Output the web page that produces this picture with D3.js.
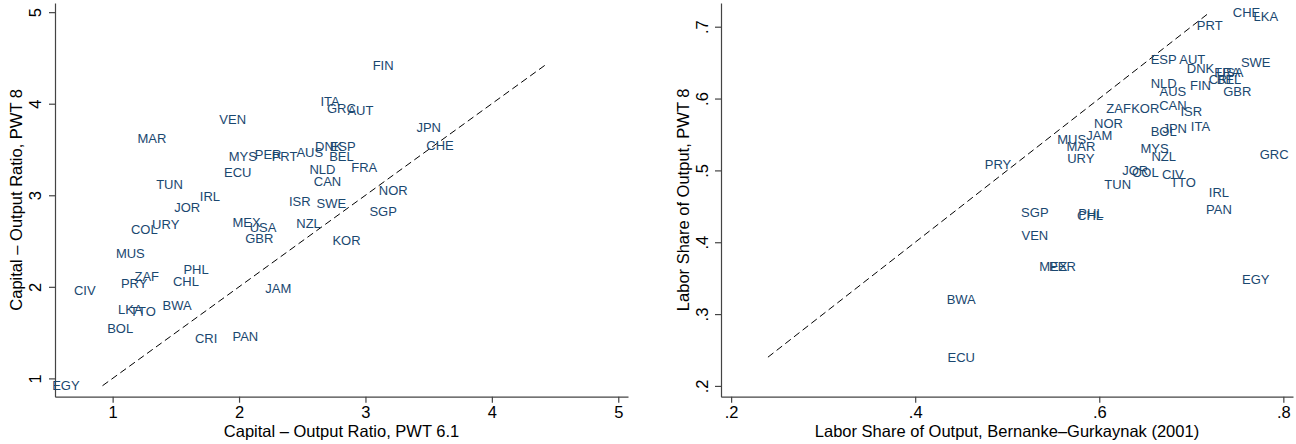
<!DOCTYPE html>
<html>
<head>
<meta charset="utf-8">
<script src="https://cdn.jsdelivr.net/npm/d3@7"></script>
<style>
  body { margin: 0; background: #fff; }
  text { font-family: "Liberation Sans", Arial, sans-serif; }
  .lbl { fill: #1a476f; font-size: 13px; }
  .tick text { font-size: 16.5px; fill: #000; }
  .axis path, .axis line { stroke: #444; stroke-width: 1.2; }
  .title { font-size: 16.5px; fill: #000; }
</style>
</head>
<body>
<div id="chart"></div>
<script>
// left panel: capital-output ratio, PWT 6.1 (x) vs PWT 8 (y)
let leftCodes = ["MAR","VEN","MYS","PER","PRT","AUS","ECU","TUN","IRL","JOR","ITA","ISR","NLD","CAN","FIN","GRC",
  "AUT","JPN","CHE","DNK","ESP","BEL","FRA","NOR","SWE","SGP","URY","COL","MEX","USA","GBR","NZL","MUS","PHL",
  "ZAF","PRY","CHL","CIV","JAM","LKA","TTO","BWA","BOL","CRI","PAN","EGY","KOR"];
let leftX = [1.31,1.95,2.03,2.23,2.36,2.56,1.99,1.45,1.77,1.59,2.72,2.48,2.66,2.70,3.14,2.81,
  2.96,3.50,3.59,2.71,2.82,2.81,2.99,3.22,2.73,3.14,1.42,1.25,2.06,2.19,2.16,2.55,1.14,1.66,
  1.27,1.17,1.58,0.78,2.31,1.14,1.24,1.51,1.06,1.74,2.05,0.63,2.85];
let leftY = [3.62,3.83,3.43,3.45,3.42,3.47,3.25,3.12,2.99,2.87,4.03,2.93,3.28,3.15,4.42,3.95,
  3.93,3.74,3.55,3.53,3.53,3.42,3.31,3.05,2.91,2.82,2.68,2.63,2.70,2.65,2.53,2.69,2.37,2.19,
  2.12,2.04,2.06,1.96,1.98,1.75,1.73,1.80,1.55,1.44,1.46,0.92,2.51];
let leftTicks = [1, 2, 3, 4, 5];

// right panel: labor share, Bernanke-Gurkaynak (x) vs PWT 8 (y)
let rightCodes = ["CHE","LKA","PRT","ESP","AUT","SWE","DNK","FRA","USA","CRI","BEL","NLD","AUS","FIN","GBR","ZAF",
  "KOR","CAN","ISR","NOR","BOL","JPN","ITA","MUS","JAM","MAR","URY","MYS","NZL","PRY","GRC","JOR",
  "COL","CIV","TTO","TUN","IRL","PAN","SGP","PHL","CHL","VEN","MEX","PER","EGY","BWA","ECU"];
let rightX = [.760,.781,.720,.670,.701,.770,.710,.739,.742,.731,.741,.670,.680,.710,.750,.621,
  .650,.680,.700,.610,.670,.682,.710,.570,.600,.580,.580,.660,.670,.490,.790,.639,
  .650,.680,.691,.620,.730,.730,.530,.591,.590,.530,.550,.560,.770,.450,.450];
let rightY = [.720,.715,.702,.655,.654,.651,.642,.636,.636,.627,.627,.621,.610,.618,.610,.586,
  .586,.591,.582,.566,.554,.559,.562,.543,.549,.534,.517,.531,.520,.509,.522,.500,
  .498,.495,.483,.480,.470,.446,.442,.440,.437,.409,.367,.367,.349,.320,.240];
let rightXTicks = [.2, .4, .6, .8];
let rightYTicks = [.2, .3, .4, .5, .6, .7];

let width = 1296, height = 444;
let plotTop = 3, plotBottom = 396.7;

let svg = d3.select('#chart').append('svg')
  .attr('width', width)
  .attr('height', height);

let shareFmt = d => d3.format('.1f')(d).replace(/^0/, '');

function panel(opt) {
  let x = d3.scaleLinear().domain(opt.xDomain).range([opt.left, opt.right]);
  let y = d3.scaleLinear().domain(opt.yDomain).range([plotBottom, plotTop]);
  let g = svg.append('g');

  // x axis
  g.append('g').attr('class', 'axis')
    .attr('transform', `translate(0,${plotBottom})`)
    .call(d3.axisBottom(x).tickValues(opt.xTicks).tickFormat(opt.fmt).tickSize(6).tickSizeOuter(0).tickPadding(4));

  // y axis, labels turned vertical
  let ya = g.append('g').attr('class', 'axis')
    .attr('transform', `translate(${opt.left},0)`)
    .call(d3.axisLeft(y).tickValues(opt.yTicks).tickFormat(opt.fmt).tickSize(6).tickSizeOuter(0));
  ya.selectAll('.tick text')
    .attr('transform', 'rotate(-90)')
    .attr('x', 0).attr('y', -opt.ylabGap).attr('dy', 0)
    .style('text-anchor', 'middle');

  // 45 degree line over the range of y
  let ext = d3.extent(opt.ys);
  g.append('line')
    .attr('x1', x(ext[0])).attr('y1', y(ext[0]))
    .attr('x2', x(ext[1])).attr('y2', y(ext[1]))
    .attr('stroke', '#000').attr('stroke-width', 1)
    .attr('stroke-dasharray', '7,4');

  g.selectAll('.lbl')
    .data(opt.codes)
    .enter()
    .append('text')
    .attr('class', 'lbl')
    .attr('x', (d, i) => x(opt.xs[i]))
    .attr('y', (d, i) => y(opt.ys[i]))
    .attr('dy', '0.36em')
    .attr('text-anchor', 'middle')
    .text(d => d);

  g.append('text').attr('class', 'title')
    .attr('x', (opt.left + opt.right) / 2).attr('y', 437)
    .attr('text-anchor', 'middle')
    .text(opt.xTitle);

  g.append('text').attr('class', 'title')
    .attr('transform', `translate(${opt.ytitleX},${(plotTop + plotBottom) / 2}) rotate(-90)`)
    .attr('text-anchor', 'middle')
    .text(opt.yTitle);
}

panel({
  left: 55, right: 628,
  xDomain: [0.544, 5.077], yDomain: [0.80, 5.10],
  xTicks: leftTicks, yTicks: leftTicks, fmt: d3.format('d'),
  codes: leftCodes, xs: leftX, ys: leftY,
  ylabGap: 14, ytitleX: 22,
  xTitle: 'Capital \u2013 Output Ratio, PWT 6.1',
  yTitle: 'Capital \u2013 Output Ratio, PWT 8'
});

panel({
  left: 721, right: 1293,
  xDomain: [0.189, 0.8105], yDomain: [0.185, 0.733],
  xTicks: rightXTicks, yTicks: rightYTicks, fmt: shareFmt,
  codes: rightCodes, xs: rightX, ys: rightY,
  ylabGap: 13, ytitleX: 689,
  xTitle: 'Labor Share of Output, Bernanke\u2013Gurkaynak (2001)',
  yTitle: 'Labor Share of Output, PWT 8'
});
</script>
</body>
</html>
